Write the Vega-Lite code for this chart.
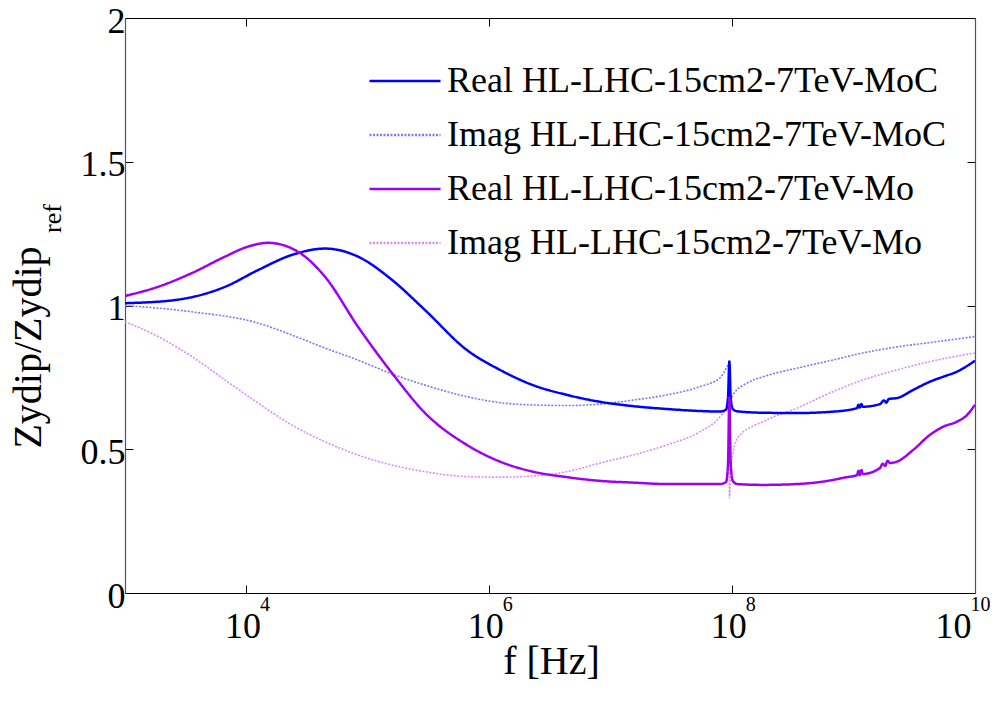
{
  "$schema": "https://vega.github.io/schema/vega-lite/v6.json",
  "width": 850,
  "height": 575,
  "autosize": {"type": "none"},
  "padding": {"left": 125, "top": 18, "right": 33, "bottom": 108},
  "background": "white",
  "config": {
    "view": {"stroke": null},
    "font": "Liberation Serif",
    "axis": {
      "grid": false,
      "labelFont": "Liberation Serif",
      "titleFont": "Liberation Serif",
      "labelColor": "#000",
      "titleColor": "#000",
      "tickColor": "#000",
      "domainColor": "#000",
      "labelFontSize": 36,
      "titleFontSize": 40,
      "titleFontWeight": "normal",
      "tickSize": -8,
      "tickWidth": 1,
      "domainWidth": 1.2
    },
    "legend": {
      "labelFont": "Liberation Serif",
      "labelFontSize": 36,
      "labelColor": "#000",
      "labelLimit": 0
    }
  },
  "datasets": {
    "curves": [
      {"f": 1000, "v": 1.008, "s": "Real HL-LHC-15cm2-7TeV-MoC"},
      {"f": 2582, "v": 1.019, "s": "Real HL-LHC-15cm2-7TeV-MoC"},
      {"f": 6668, "v": 1.065, "s": "Real HL-LHC-15cm2-7TeV-MoC"},
      {"f": 12445, "v": 1.123, "s": "Real HL-LHC-15cm2-7TeV-MoC"},
      {"f": 23714, "v": 1.176, "s": "Real HL-LHC-15cm2-7TeV-MoC"},
      {"f": 44361, "v": 1.198, "s": "Real HL-LHC-15cm2-7TeV-MoC"},
      {"f": 82985, "v": 1.170, "s": "Real HL-LHC-15cm2-7TeV-MoC"},
      {"f": 158124, "v": 1.089, "s": "Real HL-LHC-15cm2-7TeV-MoC"},
      {"f": 295801, "v": 0.984, "s": "Real HL-LHC-15cm2-7TeV-MoC"},
      {"f": 654636, "v": 0.845, "s": "Real HL-LHC-15cm2-7TeV-MoC"},
      {"f": 1224616, "v": 0.776, "s": "Real HL-LHC-15cm2-7TeV-MoC"},
      {"f": 2290868, "v": 0.723, "s": "Real HL-LHC-15cm2-7TeV-MoC"},
      {"f": 4365158, "v": 0.689, "s": "Real HL-LHC-15cm2-7TeV-MoC"},
      {"f": 8165824, "v": 0.665, "s": "Real HL-LHC-15cm2-7TeV-MoC"},
      {"f": 15241067, "v": 0.650, "s": "Real HL-LHC-15cm2-7TeV-MoC"},
      {"f": 29040000, "v": 0.640, "s": "Real HL-LHC-15cm2-7TeV-MoC"},
      {"f": 54325033, "v": 0.633, "s": "Real HL-LHC-15cm2-7TeV-MoC"},
      {"f": 79432823, "v": 0.631, "s": "Real HL-LHC-15cm2-7TeV-MoC"},
      {"f": 89125094, "v": 0.638, "s": "Real HL-LHC-15cm2-7TeV-MoC"},
      {"f": 92470000, "v": 0.680, "s": "Real HL-LHC-15cm2-7TeV-MoC"},
      {"f": 94840000, "v": 0.805, "s": "Real HL-LHC-15cm2-7TeV-MoC"},
      {"f": 97270000, "v": 0.680, "s": "Real HL-LHC-15cm2-7TeV-MoC"},
      {"f": 101200000, "v": 0.640, "s": "Real HL-LHC-15cm2-7TeV-MoC"},
      {"f": 109600000, "v": 0.632, "s": "Real HL-LHC-15cm2-7TeV-MoC"},
      {"f": 179500000, "v": 0.627, "s": "Real HL-LHC-15cm2-7TeV-MoC"},
      {"f": 342000000, "v": 0.626, "s": "Real HL-LHC-15cm2-7TeV-MoC"},
      {"f": 639700000, "v": 0.630, "s": "Real HL-LHC-15cm2-7TeV-MoC"},
      {"f": 1067000000, "v": 0.643, "s": "Real HL-LHC-15cm2-7TeV-MoC"},
      {"f": 1096000000, "v": 0.655, "s": "Real HL-LHC-15cm2-7TeV-MoC"},
      {"f": 1122000000, "v": 0.645, "s": "Real HL-LHC-15cm2-7TeV-MoC"},
      {"f": 1161000000, "v": 0.657, "s": "Real HL-LHC-15cm2-7TeV-MoC"},
      {"f": 1189000000, "v": 0.648, "s": "Real HL-LHC-15cm2-7TeV-MoC"},
      {"f": 1652000000, "v": 0.657, "s": "Real HL-LHC-15cm2-7TeV-MoC"},
      {"f": 1778000000, "v": 0.670, "s": "Real HL-LHC-15cm2-7TeV-MoC"},
      {"f": 1862000000, "v": 0.662, "s": "Real HL-LHC-15cm2-7TeV-MoC"},
      {"f": 1950000000, "v": 0.675, "s": "Real HL-LHC-15cm2-7TeV-MoC"},
      {"f": 2280000000, "v": 0.678, "s": "Real HL-LHC-15cm2-7TeV-MoC"},
      {"f": 3083000000, "v": 0.706, "s": "Real HL-LHC-15cm2-7TeV-MoC"},
      {"f": 4256000000, "v": 0.735, "s": "Real HL-LHC-15cm2-7TeV-MoC"},
      {"f": 5445000000, "v": 0.752, "s": "Real HL-LHC-15cm2-7TeV-MoC"},
      {"f": 7112000000, "v": 0.770, "s": "Real HL-LHC-15cm2-7TeV-MoC"},
      {"f": 10000000000, "v": 0.808, "s": "Real HL-LHC-15cm2-7TeV-MoC"},

      {"f": 1000, "v": 1.000, "s": "Imag HL-LHC-15cm2-7TeV-MoC"},
      {"f": 3565, "v": 0.978, "s": "Imag HL-LHC-15cm2-7TeV-MoC"},
      {"f": 12445, "v": 0.939, "s": "Imag HL-LHC-15cm2-7TeV-MoC"},
      {"f": 23714, "v": 0.897, "s": "Imag HL-LHC-15cm2-7TeV-MoC"},
      {"f": 44361, "v": 0.852, "s": "Imag HL-LHC-15cm2-7TeV-MoC"},
      {"f": 82985, "v": 0.810, "s": "Imag HL-LHC-15cm2-7TeV-MoC"},
      {"f": 158124, "v": 0.762, "s": "Imag HL-LHC-15cm2-7TeV-MoC"},
      {"f": 295801, "v": 0.723, "s": "Imag HL-LHC-15cm2-7TeV-MoC"},
      {"f": 654636, "v": 0.683, "s": "Imag HL-LHC-15cm2-7TeV-MoC"},
      {"f": 1224616, "v": 0.662, "s": "Imag HL-LHC-15cm2-7TeV-MoC"},
      {"f": 2290868, "v": 0.654, "s": "Imag HL-LHC-15cm2-7TeV-MoC"},
      {"f": 4365158, "v": 0.652, "s": "Imag HL-LHC-15cm2-7TeV-MoC"},
      {"f": 8165824, "v": 0.657, "s": "Imag HL-LHC-15cm2-7TeV-MoC"},
      {"f": 15241067, "v": 0.671, "s": "Imag HL-LHC-15cm2-7TeV-MoC"},
      {"f": 29040000, "v": 0.689, "s": "Imag HL-LHC-15cm2-7TeV-MoC"},
      {"f": 54325033, "v": 0.718, "s": "Imag HL-LHC-15cm2-7TeV-MoC"},
      {"f": 79432823, "v": 0.748, "s": "Imag HL-LHC-15cm2-7TeV-MoC"},
      {"f": 90780000, "v": 0.787, "s": "Imag HL-LHC-15cm2-7TeV-MoC"},
      {"f": 94190000, "v": 0.800, "s": "Imag HL-LHC-15cm2-7TeV-MoC"},
      {"f": 95500000, "v": 0.670, "s": "Imag HL-LHC-15cm2-7TeV-MoC"},
      {"f": 97720000, "v": 0.675, "s": "Imag HL-LHC-15cm2-7TeV-MoC"},
      {"f": 101600000, "v": 0.689, "s": "Imag HL-LHC-15cm2-7TeV-MoC"},
      {"f": 132400000, "v": 0.730, "s": "Imag HL-LHC-15cm2-7TeV-MoC"},
      {"f": 179500000, "v": 0.752, "s": "Imag HL-LHC-15cm2-7TeV-MoC"},
      {"f": 342000000, "v": 0.782, "s": "Imag HL-LHC-15cm2-7TeV-MoC"},
      {"f": 639700000, "v": 0.808, "s": "Imag HL-LHC-15cm2-7TeV-MoC"},
      {"f": 1197000000, "v": 0.835, "s": "Imag HL-LHC-15cm2-7TeV-MoC"},
      {"f": 2280000000, "v": 0.856, "s": "Imag HL-LHC-15cm2-7TeV-MoC"},
      {"f": 4256000000, "v": 0.871, "s": "Imag HL-LHC-15cm2-7TeV-MoC"},
      {"f": 10000000000, "v": 0.892, "s": "Imag HL-LHC-15cm2-7TeV-MoC"},

      {"f": 1000, "v": 1.033, "s": "Real HL-LHC-15cm2-7TeV-Mo"},
      {"f": 1871, "v": 1.065, "s": "Real HL-LHC-15cm2-7TeV-Mo"},
      {"f": 3565, "v": 1.113, "s": "Real HL-LHC-15cm2-7TeV-Mo"},
      {"f": 6668, "v": 1.170, "s": "Real HL-LHC-15cm2-7TeV-Mo"},
      {"f": 10000, "v": 1.203, "s": "Real HL-LHC-15cm2-7TeV-Mo"},
      {"f": 15066, "v": 1.218, "s": "Real HL-LHC-15cm2-7TeV-Mo"},
      {"f": 26607, "v": 1.187, "s": "Real HL-LHC-15cm2-7TeV-Mo"},
      {"f": 44361, "v": 1.100, "s": "Real HL-LHC-15cm2-7TeV-Mo"},
      {"f": 82985, "v": 0.926, "s": "Real HL-LHC-15cm2-7TeV-Mo"},
      {"f": 158124, "v": 0.765, "s": "Real HL-LHC-15cm2-7TeV-Mo"},
      {"f": 295801, "v": 0.626, "s": "Real HL-LHC-15cm2-7TeV-Mo"},
      {"f": 654636, "v": 0.515, "s": "Real HL-LHC-15cm2-7TeV-Mo"},
      {"f": 1224616, "v": 0.457, "s": "Real HL-LHC-15cm2-7TeV-Mo"},
      {"f": 2290868, "v": 0.422, "s": "Real HL-LHC-15cm2-7TeV-Mo"},
      {"f": 4365158, "v": 0.403, "s": "Real HL-LHC-15cm2-7TeV-Mo"},
      {"f": 8165824, "v": 0.390, "s": "Real HL-LHC-15cm2-7TeV-Mo"},
      {"f": 15241067, "v": 0.384, "s": "Real HL-LHC-15cm2-7TeV-Mo"},
      {"f": 29040000, "v": 0.379, "s": "Real HL-LHC-15cm2-7TeV-Mo"},
      {"f": 79432823, "v": 0.379, "s": "Real HL-LHC-15cm2-7TeV-Mo"},
      {"f": 89125094, "v": 0.386, "s": "Real HL-LHC-15cm2-7TeV-Mo"},
      {"f": 92470000, "v": 0.450, "s": "Real HL-LHC-15cm2-7TeV-Mo"},
      {"f": 94840000, "v": 0.680, "s": "Real HL-LHC-15cm2-7TeV-Mo"},
      {"f": 97270000, "v": 0.450, "s": "Real HL-LHC-15cm2-7TeV-Mo"},
      {"f": 101200000, "v": 0.390, "s": "Real HL-LHC-15cm2-7TeV-Mo"},
      {"f": 109600000, "v": 0.379, "s": "Real HL-LHC-15cm2-7TeV-Mo"},
      {"f": 179500000, "v": 0.376, "s": "Real HL-LHC-15cm2-7TeV-Mo"},
      {"f": 342000000, "v": 0.379, "s": "Real HL-LHC-15cm2-7TeV-Mo"},
      {"f": 528400000, "v": 0.386, "s": "Real HL-LHC-15cm2-7TeV-Mo"},
      {"f": 883100000, "v": 0.403, "s": "Real HL-LHC-15cm2-7TeV-Mo"},
      {"f": 1067000000, "v": 0.410, "s": "Real HL-LHC-15cm2-7TeV-Mo"},
      {"f": 1096000000, "v": 0.425, "s": "Real HL-LHC-15cm2-7TeV-Mo"},
      {"f": 1122000000, "v": 0.410, "s": "Real HL-LHC-15cm2-7TeV-Mo"},
      {"f": 1161000000, "v": 0.428, "s": "Real HL-LHC-15cm2-7TeV-Mo"},
      {"f": 1189000000, "v": 0.414, "s": "Real HL-LHC-15cm2-7TeV-Mo"},
      {"f": 1652000000, "v": 0.435, "s": "Real HL-LHC-15cm2-7TeV-Mo"},
      {"f": 1738000000, "v": 0.450, "s": "Real HL-LHC-15cm2-7TeV-Mo"},
      {"f": 1820000000, "v": 0.442, "s": "Real HL-LHC-15cm2-7TeV-Mo"},
      {"f": 1905000000, "v": 0.460, "s": "Real HL-LHC-15cm2-7TeV-Mo"},
      {"f": 1995000000, "v": 0.452, "s": "Real HL-LHC-15cm2-7TeV-Mo"},
      {"f": 2280000000, "v": 0.457, "s": "Real HL-LHC-15cm2-7TeV-Mo"},
      {"f": 3083000000, "v": 0.497, "s": "Real HL-LHC-15cm2-7TeV-Mo"},
      {"f": 4256000000, "v": 0.550, "s": "Real HL-LHC-15cm2-7TeV-Mo"},
      {"f": 5445000000, "v": 0.578, "s": "Real HL-LHC-15cm2-7TeV-Mo"},
      {"f": 7112000000, "v": 0.596, "s": "Real HL-LHC-15cm2-7TeV-Mo"},
      {"f": 8590000000, "v": 0.619, "s": "Real HL-LHC-15cm2-7TeV-Mo"},
      {"f": 10000000000, "v": 0.655, "s": "Real HL-LHC-15cm2-7TeV-Mo"},

      {"f": 1000, "v": 0.944, "s": "Imag HL-LHC-15cm2-7TeV-Mo"},
      {"f": 1871, "v": 0.892, "s": "Imag HL-LHC-15cm2-7TeV-Mo"},
      {"f": 3565, "v": 0.822, "s": "Imag HL-LHC-15cm2-7TeV-Mo"},
      {"f": 6668, "v": 0.741, "s": "Imag HL-LHC-15cm2-7TeV-Mo"},
      {"f": 12445, "v": 0.661, "s": "Imag HL-LHC-15cm2-7TeV-Mo"},
      {"f": 23714, "v": 0.584, "s": "Imag HL-LHC-15cm2-7TeV-Mo"},
      {"f": 44361, "v": 0.526, "s": "Imag HL-LHC-15cm2-7TeV-Mo"},
      {"f": 82985, "v": 0.480, "s": "Imag HL-LHC-15cm2-7TeV-Mo"},
      {"f": 158124, "v": 0.445, "s": "Imag HL-LHC-15cm2-7TeV-Mo"},
      {"f": 295801, "v": 0.422, "s": "Imag HL-LHC-15cm2-7TeV-Mo"},
      {"f": 654636, "v": 0.405, "s": "Imag HL-LHC-15cm2-7TeV-Mo"},
      {"f": 1224616, "v": 0.403, "s": "Imag HL-LHC-15cm2-7TeV-Mo"},
      {"f": 2290868, "v": 0.407, "s": "Imag HL-LHC-15cm2-7TeV-Mo"},
      {"f": 4365158, "v": 0.422, "s": "Imag HL-LHC-15cm2-7TeV-Mo"},
      {"f": 8165824, "v": 0.452, "s": "Imag HL-LHC-15cm2-7TeV-Mo"},
      {"f": 15241067, "v": 0.480, "s": "Imag HL-LHC-15cm2-7TeV-Mo"},
      {"f": 29040000, "v": 0.515, "s": "Imag HL-LHC-15cm2-7TeV-Mo"},
      {"f": 54325033, "v": 0.561, "s": "Imag HL-LHC-15cm2-7TeV-Mo"},
      {"f": 79432823, "v": 0.613, "s": "Imag HL-LHC-15cm2-7TeV-Mo"},
      {"f": 90780000, "v": 0.650, "s": "Imag HL-LHC-15cm2-7TeV-Mo"},
      {"f": 93760000, "v": 0.680, "s": "Imag HL-LHC-15cm2-7TeV-Mo"},
      {"f": 95060000, "v": 0.330, "s": "Imag HL-LHC-15cm2-7TeV-Mo"},
      {"f": 96830000, "v": 0.420, "s": "Imag HL-LHC-15cm2-7TeV-Mo"},
      {"f": 101600000, "v": 0.487, "s": "Imag HL-LHC-15cm2-7TeV-Mo"},
      {"f": 113000000, "v": 0.544, "s": "Imag HL-LHC-15cm2-7TeV-Mo"},
      {"f": 179500000, "v": 0.596, "s": "Imag HL-LHC-15cm2-7TeV-Mo"},
      {"f": 342000000, "v": 0.643, "s": "Imag HL-LHC-15cm2-7TeV-Mo"},
      {"f": 639700000, "v": 0.696, "s": "Imag HL-LHC-15cm2-7TeV-Mo"},
      {"f": 1197000000, "v": 0.741, "s": "Imag HL-LHC-15cm2-7TeV-Mo"},
      {"f": 2280000000, "v": 0.776, "s": "Imag HL-LHC-15cm2-7TeV-Mo"},
      {"f": 4256000000, "v": 0.805, "s": "Imag HL-LHC-15cm2-7TeV-Mo"},
      {"f": 10000000000, "v": 0.835, "s": "Imag HL-LHC-15cm2-7TeV-Mo"}
    ]
  },
  "data": {"name": "curves"},
  "layer": [
    {
      "transform": [{"filter": "indexof(datum.s, 'Imag') == 0"}],
      "mark": {"type": "line", "strokeWidth": 1.6, "clip": true, "interpolate": "monotone"},
      "encoding": {
        "x": {"field": "f", "type": "quantitative", "scale": {"type": "log", "domain": [1000, 10000000000], "nice": false}, "axis": null},
        "y": {"field": "v", "type": "quantitative", "scale": {"domain": [0, 2], "nice": false, "zero": false}, "axis": null},
        "color": {
          "field": "s", "type": "nominal",
          "scale": {
            "domain": ["Real HL-LHC-15cm2-7TeV-MoC", "Imag HL-LHC-15cm2-7TeV-MoC", "Real HL-LHC-15cm2-7TeV-Mo", "Imag HL-LHC-15cm2-7TeV-Mo"],
            "range": ["#0000ff", "#7a7aff", "#a000f0", "#d98cff"]
          },
          "legend": {
            "title": null,
            "orient": "none",
            "legendX": 243,
            "legendY": 36,
            "padding": 0,
            "symbolType": "stroke",
            "symbolSize": 5041,
            "symbolStrokeWidth": 2.5,
            "clipHeight": 54,
            "rowPadding": 0,
            "labelOffset": 5,
            "labelFontSize": 36,
            "labelLimit": 0,
            "labelBaseline": "middle"
          }
        },
        "strokeDash": {
          "field": "s", "type": "nominal",
          "scale": {
            "domain": ["Real HL-LHC-15cm2-7TeV-MoC", "Imag HL-LHC-15cm2-7TeV-MoC", "Real HL-LHC-15cm2-7TeV-Mo", "Imag HL-LHC-15cm2-7TeV-Mo"],
            "range": [[1, 0], [2, 1.5], [1, 0], [2, 1.5]]
          },
          "legend": {
            "title": null,
            "orient": "none",
            "legendX": 243,
            "legendY": 36,
            "padding": 0,
            "symbolType": "stroke",
            "symbolSize": 5041,
            "symbolStrokeWidth": 2.5,
            "clipHeight": 54,
            "rowPadding": 0,
            "labelOffset": 5,
            "labelFontSize": 36,
            "labelLimit": 0,
            "labelBaseline": "middle"
          }
        }
      }
    },
    {
      "transform": [{"filter": "indexof(datum.s, 'Real') == 0"}],
      "mark": {"type": "line", "strokeWidth": 2.5, "clip": true, "interpolate": "monotone"},
      "encoding": {
        "x": {
          "field": "f", "type": "quantitative",
          "axis": {
            "orient": "bottom",
            "values": [10000, 1000000, 100000000, 10000000000],
            "labelExpr": "'10'",
            "labelPadding": 52,
            "labelBaseline": "alphabetic",
            "labelOffset": {"condition": {"test": "datum.value > 5000000000", "value": -22}, "value": -4},
            "labelFlush": false,
            "labelOverlap": false,
            "title": "f [Hz]",
            "titleX": 426,
            "titleY": 80,
            "titleBaseline": "alphabetic",
            "titleAlign": "center",
            "titleAnchor": null
          }
        },
        "y": {
          "field": "v", "type": "quantitative",
          "axis": {
            "orient": "left",
            "values": [0, 0.5, 1, 1.5, 2],
            "format": "~g",
            "labelPadding": 8,
            "labelBaseline": "middle",
            "labelOffset": 3,
            "labelFlush": false,
            "labelOverlap": false,
            "domainColor": "#555",
            "title": "Zydip/Zydip",
            "titleAngle": -90,
            "titleX": -85,
            "titleY": 329,
            "titleAlign": "center",
            "titleBaseline": "alphabetic",
            "titleAnchor": null
          }
        },
        "color": {"field": "s", "type": "nominal"},
        "strokeDash": {"field": "s", "type": "nominal"}
      }
    },
    {
      "mark": {"type": "line", "opacity": 0},
      "encoding": {
        "x": {
          "field": "f", "type": "quantitative",
          "axis": {
            "orient": "bottom",
            "values": [10000, 1000000, 100000000, 10000000000],
            "labelExpr": "format(log(datum.value) / LN10, '.0f')",
            "labelFontSize": 20,
            "labelPadding": 17,
            "labelBaseline": "alphabetic",
            "labelAlign": "left",
            "labelOffset": {"condition": {"test": "datum.value > 5000000000", "value": -5}, "value": 13},
            "labelFlush": false,
            "labelOverlap": false,
            "ticks": false,
            "domain": false,
            "title": null
          }
        },
        "y": {"field": "v", "type": "quantitative", "axis": null},
        "detail": {"field": "s", "type": "nominal"}
      }
    },
    {
      "mark": {"type": "line", "opacity": 0},
      "encoding": {
        "x": {
          "field": "f", "type": "quantitative",
          "axis": {
            "orient": "top",
            "values": [10000, 1000000, 100000000, 10000000000],
            "labels": false,
            "title": null
          }
        },
        "y": {
          "field": "v", "type": "quantitative",
          "axis": {
            "orient": "right",
            "values": [0, 0.5, 1, 1.5, 2],
            "labels": false,
            "domainColor": "#555",
            "title": "ref",
            "titleFontSize": 26,
            "titleAngle": -90,
            "titleX": -915,
            "titleY": 200,
            "titleAlign": "center",
            "titleBaseline": "alphabetic",
            "titleAnchor": null
          }
        },
        "detail": {"field": "s", "type": "nominal"}
      }
    }
  ],
  "resolve": {"axis": {"x": "independent", "y": "independent"}}
}
